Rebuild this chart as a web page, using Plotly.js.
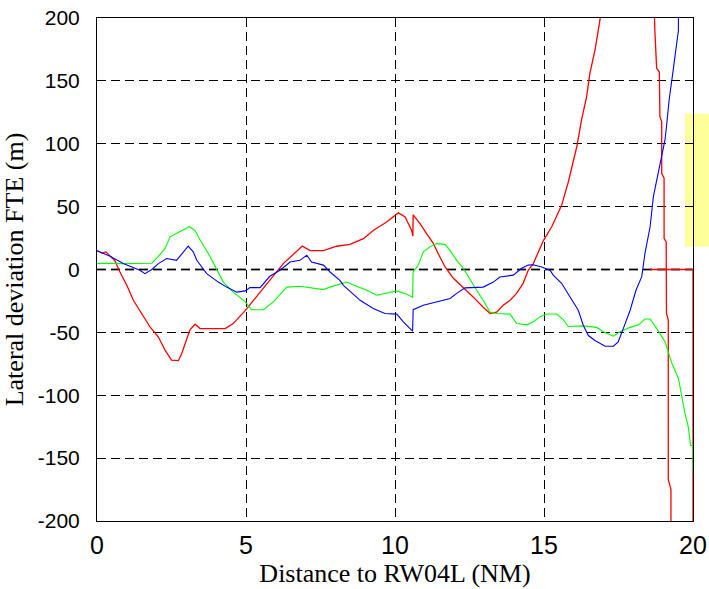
<!DOCTYPE html>
<html>
<head>
<meta charset="utf-8">
<script src="https://cdn.plot.ly/plotly-3.0.1.min.js"></script>
<style>html,body{margin:0;padding:0;background:#fff;}#chart{width:709px;height:589px;}</style>
</head>
<body>
<div id="chart"></div>
<script>
// Series
const redX = [0,0.16,0.3,0.6,0.77,1.0,1.22,1.5,1.78,2.06,2.28,2.5,2.73,2.84,3.0,3.12,3.29,3.46,4.3,4.57,4.98,5.47,5.86,6.25,6.89,7.15,7.6,8.04,8.49,8.94,9.27,9.72,10.11,10.34,10.56,10.6,10.61,10.84,11.06,11.29,11.45,11.68,11.96,12.29,12.63,12.96,13.19,13.41,13.63,13.86,14.08,14.3,14.47,14.64,14.98,15.26,15.59,15.82,16.1,16.26,16.43,16.54,16.71,16.82,16.9,17.0,17.5,18.6,18.7,18.72,18.78,18.87,18.89,18.95,18.95,19.03,19.03,19.1,19.11,19.17,19.17,19.26,19.26,19.3,null,18.56,20,20];
const redY = [15,13,14,7,-2,-12.5,-24.5,-35,-45.7,-53.7,-64,-72,-72.5,-67,-56,-48,-43.5,-47,-47,-43,-32.5,-18,-6,4.7,18.6,15,15,18.5,20,24.5,31,37.7,45,41.7,31,26.5,43.5,36.5,28.5,20.6,12.6,2,-7,-14,-22,-30,-35,-34,-28.5,-24.5,-19,-11,-0.6,4.7,23,34,51,70,97.6,119,137.5,156,174.5,190,202,240,300,300,202,190,160,157,121.5,117.5,76.5,72.5,24.7,22,-35,-40,-167,-175,-200,-260,null,0,0,-200];

const blueX = [0,0.44,0.88,1.16,1.44,1.61,1.84,2.06,2.34,2.67,2.9,3.06,3.23,3.35,3.68,4.07,4.35,4.69,4.98,5.13,5.47,5.8,6.14,6.48,6.81,7.04,7.2,7.6,7.82,8.15,8.27,8.83,9.27,9.66,10.06,10.28,10.59,10.61,10.95,11.4,11.85,12.07,12.35,12.96,13.3,13.52,13.97,14.25,14.47,14.64,14.92,15.2,15.31,15.59,15.87,16.15,16.32,16.49,16.71,17.05,17.33,17.49,17.66,17.89,18.09,18.28,18.39,18.56,18.67,18.78,18.95,19.06,19.12,19.2,19.32,19.4,19.51,19.51,19.55];
const blueY = [15,10.5,4.7,2,-0.6,-3.3,0,4.7,8.7,7.3,14,18.6,14,7.3,-3.3,-10,-14,-18,-17,-14.4,-14.4,-5.4,-0.6,6,7.3,11.3,6,3.5,-2,-8.6,-12.6,-24.5,-31,-35,-35.5,-41.7,-49,-32,-28.5,-25.8,-23,-19,-14.6,-14,-10,-6,-4.5,1,3.5,3.8,2,-0.6,-4.5,-11,-22,-32.4,-44.5,-52.5,-56.5,-61,-61,-57.5,-47,-32.4,-16.3,-5.7,13,34,58,71,90,103,116,135,156,172,190,202,240];

const greenX = [0,0.19,0.88,1.44,1.84,2.06,2.28,2.45,2.79,3.1,3.29,3.46,3.74,4.02,4.24,4.57,4.98,5.19,5.58,5.92,6.2,6.37,6.81,7.15,7.6,7.82,8.38,8.71,9.05,9.39,9.72,10.06,10.39,10.59,10.61,10.78,10.95,11.17,11.4,11.68,11.85,12.07,12.29,12.52,12.74,12.96,13.19,13.41,13.86,14.08,14.42,14.64,14.87,15.09,15.43,15.65,15.82,16.32,16.77,16.99,17.33,17.55,17.89,18.17,18.39,18.56,18.78,19.06,19.29,19.51,19.62,19.73,19.84,19.92,20,20];
const greenY = [4.7,5,4.7,4.7,5,10.5,16.6,26,30.5,34,31,23.4,12.6,-0.6,-10,-18,-25.8,-32,-32,-25.8,-18,-14,-13.3,-14.6,-16,-14,-10,-13.3,-16.5,-20.5,-19,-17,-19.7,-22,-2,3.5,14,18,20.6,20,15,7.3,1,-8.4,-16.5,-24.5,-34,-35,-35.5,-43,-44,-41.5,-37.5,-35.4,-35.4,-40,-45.3,-44.8,-46,-49.5,-53,-49.5,-46,-44,-39.4,-39.4,-46.8,-57.4,-74.6,-86.5,-101,-114.5,-125,-140,-140,-160];

const xTicks = [0,5,10,15,20];
const yTicks = [-200,-150,-100,-50,0,50,100,150,200];
const xLabel = 'Distance to RW04L (NM)';
const yLabel = 'Lateral deviation FTE (m)';

const traces = [
  {x: redX, y: redY, mode: 'lines', line: {color: '#ff0000', width: 1.3}, connectgaps: false, name: 'red'},
  {x: greenX, y: greenY, mode: 'lines', line: {color: '#00ff00', width: 1.1}, name: 'green'},
  {x: blueX, y: blueY, mode: 'lines', line: {color: '#0000ff', width: 1.1}, name: 'blue'}
];

const layout = {
  width: 709, height: 589,
  margin: {l: 97, r: 16, t: 18, b: 68},
  paper_bgcolor: '#ffffff', plot_bgcolor: '#ffffff',
  showlegend: false,
  xaxis: {
    range: [0, 20], tickvals: xTicks, ticktext: xTicks.map(String),
    showgrid: true, gridcolor: '#000000', gridwidth: 1, griddash: '9px,5px',
    zeroline: false, showline: true, linecolor: '#000000', linewidth: 1, mirror: true,
    ticks: '', tickfont: {family: 'Liberation Sans, Arial', size: 25, color: '#000'},
    ticklabelstandoff: 2,
    title: {text: xLabel, font: {family: 'Liberation Serif, Times New Roman', size: 26, color: '#000'}, standoff: 2}
  },
  yaxis: {
    range: [-200, 200], tickvals: yTicks, ticktext: yTicks.map(String),
    showgrid: true, gridcolor: '#000000', gridwidth: 1, griddash: '9px,5px',
    zeroline: false, showline: true, linecolor: '#000000', linewidth: 1, mirror: true,
    ticks: '', tickfont: {family: 'Liberation Sans, Arial', size: 21, color: '#000'},
    ticklabelstandoff: 12,
    title: {text: yLabel, font: {family: 'Liberation Serif, Times New Roman', size: 26, color: '#000'}, standoff: 6}
  },
  shapes: [
    {type: 'line', xref: 'paper', yref: 'y', x0: 0, x1: 1, y0: 0, y1: 0, layer: 'between',
     line: {color: '#808080', width: 2.5, dash: '9px,5px'}},
    {type: 'rect', xref: 'paper', yref: 'paper', x0: 0.9866, x1: 1.1, y0: 0.545, y1: 0.8095, layer: 'below',
     fillcolor: '#ffff99', line: {width: 0}}
  ]
};

Plotly.newPlot('chart', traces, layout, {displayModeBar: false, staticPlot: true});
</script>
</body>
</html>
